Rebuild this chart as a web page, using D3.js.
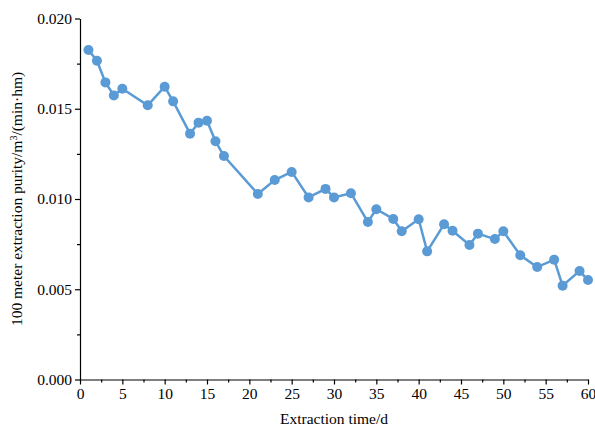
<!DOCTYPE html>
<html>
<head>
<meta charset="utf-8">
<script src="https://cdn.jsdelivr.net/npm/d3@7"></script>
<style>
  body { margin: 0; background: #fff; }
  text { font-family: 'Liberation Serif', 'Times New Roman', serif; fill: #000; }
</style>
</head>
<body>
<div id="chart"></div>
<script>
// Extraction day and purity readings
const days = [1, 2, 3, 4, 5, 8, 10, 11, 13, 14, 15, 16, 17, 21, 23, 25, 27, 29, 30, 32,
  34, 35, 37, 38, 40, 41, 43, 44, 46, 47, 49, 50, 52, 54, 56, 57, 59, 60]
const purity = [0.01825, 0.01766, 0.01646, 0.01574, 0.01611, 0.01519, 0.01622, 0.01541,
  0.01362, 0.01423, 0.01434, 0.01320, 0.01238, 0.01028, 0.01105, 0.01150, 0.01009,
  0.01056, 0.01009, 0.01032, 0.00873, 0.00943, 0.00889, 0.00821, 0.00888, 0.00710,
  0.00860, 0.00824, 0.00745, 0.00808, 0.00778, 0.00821, 0.00688, 0.00623, 0.00664,
  0.00520, 0.00601, 0.00551]
const xTicks = [0, 5, 10, 15, 20, 25, 30, 35, 40, 45, 50, 55, 60]
const yTicks = [0, 0.005, 0.010, 0.015, 0.020]

const width = 595
const height = 428
const margin = { top: 18.5, right: 7, bottom: 48.5, left: 80 }
const blue = '#5b9bd5'
const fontSize = 15.5

const data = days.map((d, i) => ({ day: d, value: purity[i] }))

const svg = d3.select('#chart').append('svg')
  .attr('width', width)
  .attr('height', height)

const x = d3.scaleLinear().domain([0, 60]).range([margin.left, width - margin.right])
const y = d3.scaleLinear().domain([0, 0.020]).range([height - margin.bottom, margin.top])

// minor ticks
const xMinor = d3.range(2.5, 60, 5)
const yMinor = d3.range(0.0025, 0.020, 0.005)

svg.append('g')
  .attr('transform', `translate(0,${y(0)})`)
  .call(d3.axisBottom(x).tickValues(xMinor).tickSize(3).tickFormat(''))
  .call(g => g.select('.domain').remove())

svg.append('g')
  .attr('transform', `translate(${x(0)},0)`)
  .call(d3.axisLeft(y).tickValues(yMinor).tickSize(3).tickFormat(''))
  .call(g => g.select('.domain').remove())

const xAxis = svg.append('g')
  .attr('transform', `translate(0,${y(0)})`)
  .call(d3.axisBottom(x).tickValues(xTicks).tickSize(5).tickSizeOuter(0).tickPadding(3))
xAxis.selectAll('text').attr('font-size', fontSize)

const yAxis = svg.append('g')
  .attr('transform', `translate(${x(0)},0)`)
  .call(d3.axisLeft(y).tickValues(yTicks).tickSize(5).tickSizeOuter(0).tickPadding(3)
    .tickFormat(d3.format('.3f')))
yAxis.selectAll('text').attr('font-size', fontSize)

svg.selectAll('.domain, .tick line').attr('stroke', '#000').attr('stroke-width', 1.2)

// axis titles
svg.append('text')
  .attr('x', (x(0) + x(60)) / 2)
  .attr('y', 424)
  .attr('text-anchor', 'middle')
  .attr('font-size', fontSize)
  .text('Extraction time/d')

const yTitle = svg.append('text')
  .attr('transform', `translate(22,${(y(0) + y(0.02)) / 2}) rotate(-90)`)
  .attr('text-anchor', 'middle')
  .attr('font-size', fontSize)
yTitle.append('tspan').text('100 meter extraction purity/m')
yTitle.append('tspan').attr('font-size', 10).attr('dy', -5).text('3')
yTitle.append('tspan').attr('dy', 5).text('/(min\u00b7hm)')

// line and markers
const line = d3.line().x(d => x(d.day)).y(d => y(d.value))

svg.append('path')
  .datum(data)
  .attr('d', line)
  .attr('fill', 'none')
  .attr('stroke', blue)
  .attr('stroke-width', 2.5)

svg.append('g')
  .selectAll('circle')
  .data(data)
  .join('circle')
  .attr('cx', d => x(d.day))
  .attr('cy', d => y(d.value))
  .attr('r', 5)
  .attr('fill', blue)
</script>
</body>
</html>
